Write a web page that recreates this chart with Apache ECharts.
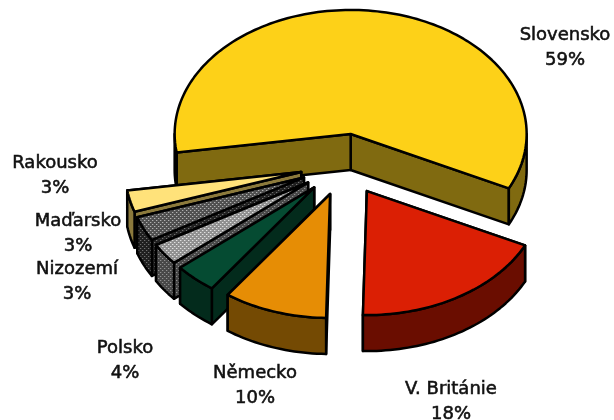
<!DOCTYPE html>
<html><head><meta charset="utf-8">
<style>html,body{margin:0;padding:0;background:#fff}#c{width:614px;height:420px}</style>
<script src="https://cdn.jsdelivr.net/npm/echarts@6/dist/echarts.min.js"></script>
</head><body><div id="c"></div>
<script>
// Data, counter-clockwise from the first cut (back slices first, so later slices paint over earlier ones)
const categories = ['Slovensko','Rakousko','Maďarsko','Nizozemí','Polsko','Německo','V. Británie'];
const shares = [59.49, 2.8, 3.2, 2.8, 3.9, 9.5, 18.1];

// Pie geometry
const PIE = {cx:344, cy:164.6, rx:176, ry:124, depth:36, explode:0.25, startDeg:-26};
const INK = {color:'#000', width:2.5};
const LABEL_POS = [[565,48],[55,176],[78,234],[77,282],[125,361],[255,386],[451,402]];

function tile(bg, dot, mid){
  const c = document.createElement('canvas'); c.width = c.height = 4;
  const g = c.getContext('2d');
  g.fillStyle = bg; g.fillRect(0,0,4,4);
  g.fillStyle = mid; g.fillRect(0,0,2,1); g.fillRect(2,2,2,1);
  g.fillStyle = dot; g.fillRect(0,0,1,1); g.fillRect(2,2,1,1);
  return {image:c, repeat:'repeat'};
}
const TOPS = ['#FDD118','#FFE27A',tile('#505050','#b0b0b0','#707070'),tile('#909090','#e0e0e0','#b0b0b0'),'#054B32','#E68D05','#DB1F04'];
const SIDES = ['#806A10','#8C7A3C',tile('#202020','#707070','#363636'),tile('#484848','#909090','#5c5c5c'),'#032B1C','#744A03','#6A0D00'];

const total = shares.reduce((a,b)=>a+b,0);
const rad = d => d*Math.PI/180;

function renderSlice(params, api){
  const i = api.value(0);
  let before = 0;
  for(let k=0;k<i;k++) before += shares[k];
  const a0 = PIE.startDeg + before/total*360;
  const a1 = a0 + api.value(1)/total*360;
  const mid = rad((a0+a1)/2);
  const ox = PIE.cx + PIE.explode*PIE.rx*Math.cos(mid);
  const oy = PIE.cy - PIE.explode*PIE.ry*Math.sin(mid);
  const rim = (d,drop=0)=>[ox+PIE.rx*Math.cos(rad(d)), oy-PIE.ry*Math.sin(rad(d))+drop];
  const sample = (from,to)=>{
    const n = Math.max(2,Math.ceil((to-from)/1.5)), out=[];
    for(let s=0;s<=n;s++) out.push(from+(to-from)*s/n);
    return out;
  };
  const face = (pts,fill)=>({type:'polygon',shape:{points:pts},
    style:{fill,stroke:INK.color,lineWidth:INK.width,lineJoin:'round'}});
  const top=[ox,oy], bottom=[ox,oy+PIE.depth], kids=[];
  // cut faces
  [a0,a1].forEach(a=>kids.push(face([top,rim(a),rim(a,PIE.depth),bottom],SIDES[i])));
  // outer wall: only the front half of the circle shows
  for(let k=-2;k<=1;k++){
    const from=Math.max(a0,-180+360*k), to=Math.min(a1,360*k);
    if(to>from){
      const ds=sample(from,to);
      kids.push(face(ds.map(d=>rim(d)).concat(ds.slice().reverse().map(d=>rim(d,PIE.depth))),SIDES[i]));
    }
  }
  // top face
  kids.push(face([top].concat(sample(a0,a1).map(d=>rim(d))),TOPS[i]));
  // label
  kids.push({type:'text',z2:10,style:{
    text:categories[i]+'\n'+Math.round(api.value(1))+'%',
    x:LABEL_POS[i][0],y:LABEL_POS[i][1],align:'center',verticalAlign:'middle',
    fill:'#111',stroke:'#111',lineWidth:0.55,font:'18px "DejaVu Sans"',lineHeight:25}});
  return {type:'group',children:kids};
}

const chart = echarts.init(document.getElementById('c'),null,{renderer:'canvas'});
chart.setOption({
  animation:false,
  backgroundColor:'#fff',
  series:[{type:'custom',coordinateSystem:'none',renderItem:renderSlice,
    data:categories.map((c,i)=>({name:c,value:[i,shares[i]]}))}]
});
</script></body></html>
